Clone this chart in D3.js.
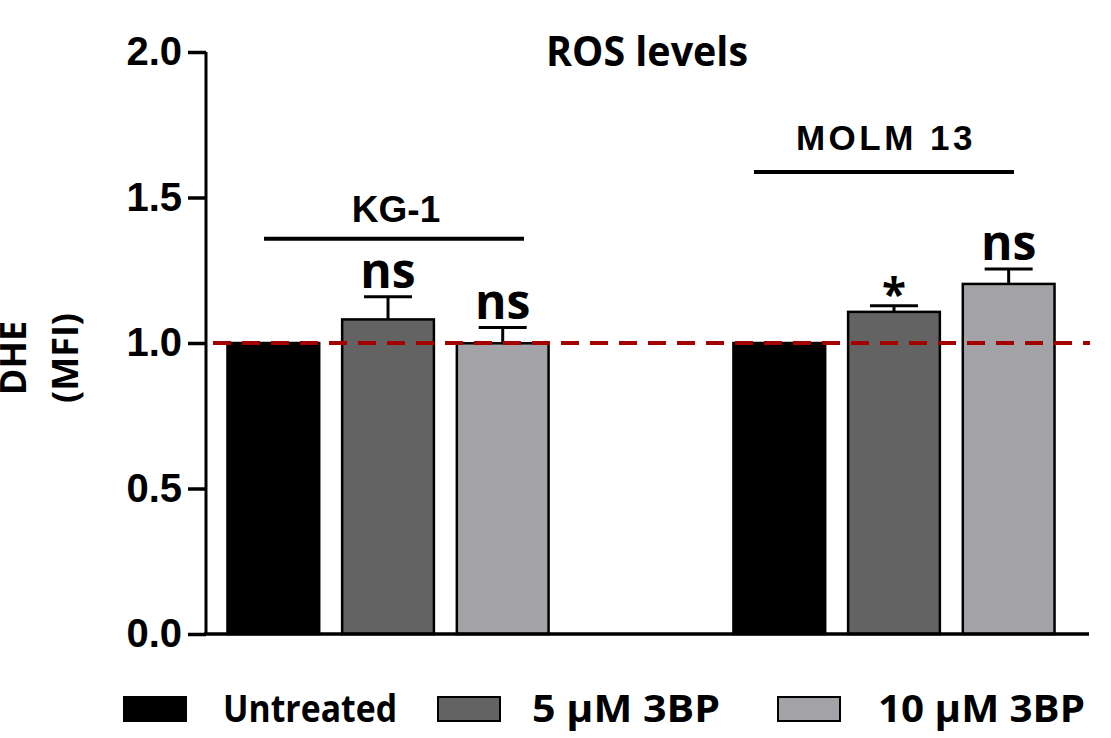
<!DOCTYPE html>
<html>
<head>
<meta charset="utf-8">
<script src="https://cdn.jsdelivr.net/npm/d3@7"></script>
<style>
  body { margin: 0; background: #fff; }
  svg { display: block; }
</style>
</head>
<body>
<div id="chart"></div>
<script>
// values
var groups = ["KG-1", "MOLM 13"];
var treatments = ["Untreated", "5 µM 3BP", "10 µM 3BP"];
var kg1Means = [1.0, 1.081, 0.999];
var kg1Errors = [0, 0.078, 0.054];
var molmMeans = [1.0, 1.107, 1.203];
var molmErrors = [0, 0.021, 0.051];
var kg1Sig = ["", "ns", "ns"];
var molmSig = ["", "*", "ns"];
var bracketLevels = [1.358, 1.588];
var yTicks = [0, 0.5, 1.0, 1.5, 2.0];
var colors = ["#000000", "#636363", "#a3a2a6"];

var rows = [];
[[kg1Means, kg1Errors, kg1Sig], [molmMeans, molmErrors, molmSig]].forEach(function(g, gi) {
    treatments.forEach(function(t, ti) {
        rows.push({group: groups[gi], treatment: t, mean: g[0][ti], err: g[1][ti], sig: g[2][ti], ti: ti});
    });
});

var width = 1111, height = 738;
var svg = d3.select("#chart").append("svg")
            .attr("width", width)
            .attr("height", height);

var y = d3.scaleLinear().domain([0, 2]).range([634, 52]);
var x0 = d3.scaleBand().domain(groups).range([216, 1066]).paddingInner(0.32);
var x1 = d3.scaleBand().domain(treatments).range([0, x0.bandwidth()]).paddingInner(0.2).paddingOuter(0.1);
var color = d3.scaleOrdinal().domain(treatments).range(colors);

function cx(d) { return x0(d.group) + x1(d.treatment) + x1.bandwidth() / 2; }

// bars
svg.append("g")
   .selectAll("rect")
   .data(rows)
   .enter().append("rect")
   .attr("x", function(d) { return x0(d.group) + x1(d.treatment); })
   .attr("y", function(d) { return y(d.mean); })
   .attr("width", x1.bandwidth())
   .attr("height", function(d) { return y(0) - y(d.mean); })
   .attr("fill", function(d) { return color(d.treatment); })
   .attr("stroke", "#000")
   .attr("stroke-width", 2.5);

// error bars (upper only)
var eb = svg.append("g").selectAll("g")
            .data(rows.filter(function(d) { return d.err > 0; }))
            .enter().append("g")
            .attr("stroke", "#000")
            .attr("stroke-width", 3);
eb.append("line")
  .attr("x1", cx).attr("x2", cx)
  .attr("y1", function(d) { return y(d.mean); })
  .attr("y2", function(d) { return y(d.mean + d.err); });
eb.append("line")
  .attr("x1", function(d) { return cx(d) - 24; })
  .attr("x2", function(d) { return cx(d) + 24; })
  .attr("y1", function(d) { return y(d.mean + d.err); })
  .attr("y2", function(d) { return y(d.mean + d.err); });

// significance marks
svg.append("g")
   .selectAll("text")
   .data(rows.filter(function(d) { return d.sig; }))
   .enter().append("text")
   .attr("x", cx)
   .attr("y", function(d) { return y(d.mean + d.err) - (d.sig == "*" ? -4 : 9); })
   .attr("text-anchor", "middle")
   .style("font-family", "'Open Sans', sans-serif")
   .style("font-weight", "bold")
   .style("font-size", function(d) { return d.sig == "*" ? "44px" : "48px"; })
   .text(function(d) { return d.sig; });

// reference line at 1.0
svg.append("line")
   .attr("x1", 213).attr("x2", 1090)
   .attr("y1", y(1)).attr("y2", y(1))
   .attr("stroke", "#a30000")
   .attr("stroke-width", 4)
   .attr("stroke-dasharray", "18,11");

// group brackets + labels
var nudge = [6, -10];
var br = svg.append("g").selectAll("g")
            .data(groups)
            .enter().append("g");
br.append("line")
  .attr("x1", function(d, i) { return x0(d) + x0.bandwidth() / 2 + nudge[i] - 130; })
  .attr("x2", function(d, i) { return x0(d) + x0.bandwidth() / 2 + nudge[i] + 130; })
  .attr("y1", function(d, i) { return y(bracketLevels[i]); })
  .attr("y2", function(d, i) { return y(bracketLevels[i]); })
  .attr("stroke", "#000")
  .attr("stroke-width", 4);
br.append("text")
  .attr("x", function(d, i) { return x0(d) + x0.bandwidth() / 2 + nudge[i] + 2; })
  .attr("y", function(d, i) { return y(bracketLevels[i]) - (i == 0 ? 17 : 22); })
  .attr("text-anchor", "middle")
  .style("font-family", "'Liberation Sans', Arial, sans-serif")
  .style("font-weight", "bold")
  .style("font-size", function(d, i) { return i == 0 ? "37px" : "35px"; })
  .style("letter-spacing", function(d, i) { return i == 1 ? "3.5px" : "0px"; })
  .text(function(d) { return d; });

// title
svg.append("text")
   .attr("x", 647).attr("y", 66)
   .attr("text-anchor", "middle")
   .attr("textLength", 202)
   .attr("lengthAdjust", "spacingAndGlyphs")
   .style("font-family", "'Open Sans', sans-serif")
   .style("font-weight", "bold")
   .style("font-size", "41px")
   .text("ROS levels");

// y axis
var yAxis = svg.append("g")
               .attr("transform", "translate(206,0)")
               .call(d3.axisLeft(y).tickValues(yTicks).tickFormat(d3.format(".1f")).tickSize(18).tickPadding(6));
yAxis.select(".domain").attr("stroke-width", 3).attr("d", "M0," + y(2) + "V" + y(0));
yAxis.selectAll(".tick line").attr("stroke-width", 3.5);
yAxis.selectAll(".tick text")
     .style("font-family", "'Liberation Sans', Arial, sans-serif")
     .style("font-weight", "bold")
     .style("font-size", "40px");

// x axis line
svg.append("line")
   .attr("x1", 204).attr("x2", 1089)
   .attr("y1", y(0)).attr("y2", y(0))
   .attr("stroke", "#000")
   .attr("stroke-width", 3.5);

// y axis title
var yt = svg.append("text")
            .attr("transform", "translate(0," + 358 + ") rotate(-90)")
            .attr("text-anchor", "middle")
            .style("font-family", "'Open Sans', sans-serif")
            .style("font-weight", "bold")
            .style("font-size", "36px");
yt.append("tspan").attr("x", 0).attr("y", 26).text("DHE");
yt.append("tspan").attr("x", 0).attr("y", 78).text("(MFI)");

// legend
var legendX = [124, 438, 778];
var legendTextX = [223, 532, 878];
var legendTextW = [174, 188, 207];
var lg = svg.append("g").selectAll("g")
            .data(treatments)
            .enter().append("g");
lg.append("rect")
  .attr("x", function(d, i) { return legendX[i]; })
  .attr("y", 697)
  .attr("width", 62)
  .attr("height", 24)
  .attr("fill", function(d) { return color(d); })
  .attr("stroke", "#000")
  .attr("stroke-width", 2);
lg.append("text")
  .attr("x", function(d, i) { return legendTextX[i]; })
  .attr("y", 722)
  .attr("textLength", function(d, i) { return legendTextW[i]; })
  .attr("lengthAdjust", "spacingAndGlyphs")
  .style("font-family", "'Open Sans', sans-serif")
  .style("font-weight", "bold")
  .style("font-size", "37px")
  .text(function(d) { return d; });
</script>
</body>
</html>
